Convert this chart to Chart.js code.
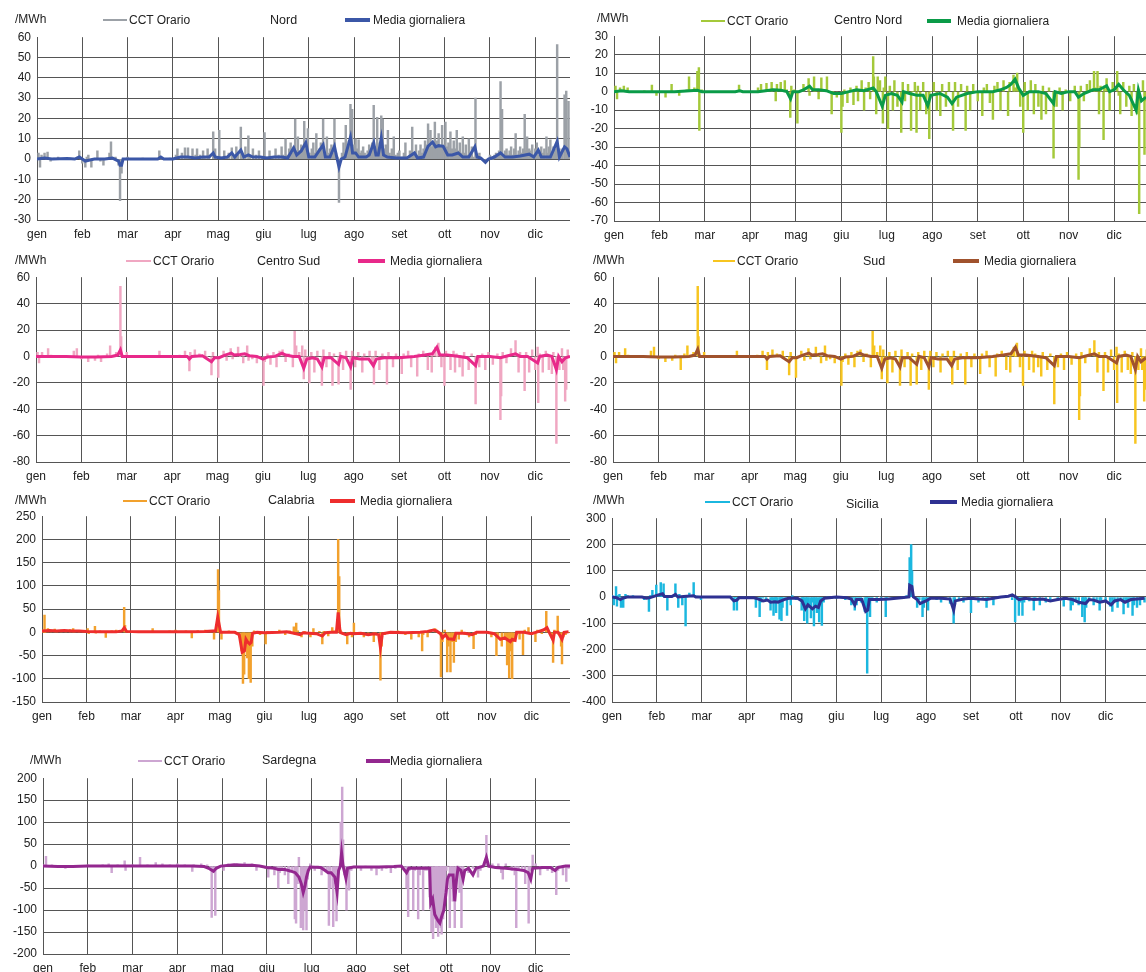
<!DOCTYPE html>
<html>
<head>
<meta charset="utf-8">
<script src="https://cdn.jsdelivr.net/npm/chart.js@4.4.1/dist/chart.umd.min.js"></script>
<style>
  body { margin:0; background:#fff; width:1146px; height:972px; overflow:hidden; position:relative;
         font-family:"Liberation Sans", Arial, sans-serif; color:#222; }
  .box { position:absolute; }
  .t { position:absolute; font-size:12px; line-height:14px; white-space:nowrap; }
  .ln { position:absolute; }
</style>
</head>
<body>
<script>
// month labels (x axis, 30 "days" per month)
const mesi = ["gen","feb","mar","apr","mag","giu","lug","ago","set","ott","nov","dic"];

// ---- Nord ----
const nordOrario = [[0,0],[1,3],[2,-4],[3,2],[5,3],[6,0],[7,3.5],[9,-1],[11,0.5],[14,1],[18,0],[22,0.5],[25,0],[27,1],[28,4],[29,0],[30,-2],[32,-4],[33,1],[34,2],[36,-4],[38,0],[40,4],[41,0],[42,-1],[44,-3],[46,0],[48,3],[49,8.5],[50,0],[52,1],[54,-3],[55,-20.5],[55.5,-2],[56,-7],[57,0],[60,1],[65,0],[70,0.5],[75,0],[80,0],[81,4],[82,0],[88,0.5],[92,2],[93,5],[94,1],[96,3],[98,5.5],[99,1],[100,5.5],[101,1],[103,5],[105,2],[106,5],[108,2],[110,4],[111,1],[113,5],[114,2],[116.7,13.4],[117.5,2],[118,5],[120.7,14.2],[121.5,1],[124,4],[126,1],[127,3],[129,5.5],[130,1],[132,6],[133,2],[135,15.8],[136,2],[138,6],[140,11.4],[141,2],[143,5],[145,2],[147,4],[149,1],[150.7,13],[151.5,1],[154,4],[156,1],[158,5],[160,2],[162,6],[163,2],[164.6,10],[165.5,2],[167,5],[168,8],[169,3],[170,6],[171,19.7],[172,4],[172.8,11],[174,4],[175,7],[176,5],[177,18.6],[178,5],[179.4,15],[180.5,3],[182,5],[183,8],[184,3],[185,12.6],[186,4],[187,5],[188,8],[189.5,19.7],[190.5,3],[192,11],[193,3],[194,5],[195,7],[196,3],[197,19.7],[198,3],[199,1],[200,-21.3],[201,0],[202,3],[203,8],[204.5,16.6],[205.5,4],[206.5,9],[207.6,26.9],[208.2,6],[208.7,24.5],[209.5,5],[210,7],[211,10],[212,5],[213,9.5],[214,3],[215,4],[216,6],[217,3],[218,2],[219,4],[220,7],[221,3],[222,8],[223,26.5],[224,6],[225.3,20.5],[226.5,5],[227,8],[228,21.3],[228.5,6],[229,19.7],[230,5],[231,7],[232.4,14.2],[233.5,3],[235,5],[236.3,11],[237.5,2],[239,3],[240,4],[242,1],[243,3],[244,8],[245,1],[247,4],[248.5,15.8],[249.5,2],[251,7],[252,2],[253,4],[254,7],[255,3],[256,5],[257,9],[258,5],[258.5,7],[259,17.4],[259.8,6],[260.6,14.2],[261.5,6],[262.5,8],[263.5,18.2],[264.5,7],[265,9],[266,12.6],[267,6],[268.3,16.6],[269.3,7],[270.5,18.2],[271.5,6],[272.5,8],[273.8,13.4],[275,5],[276,9],[277,5],[278,14.2],[279,4],[280,8],[281,3],[282,11],[283,3],[284,7],[285,2],[286,10],[287,2],[288,6],[289,1],[290.4,30],[291,1],[292,2],[293,3],[295,0],[297,-1.6],[298,0],[300,2],[302,0],[303,2],[304,3],[305,1],[306,4],[307,38.2],[307.5,2],[308,24.5],[309,2],[310,4],[311,5],[312,2],[313,4],[314,6],[315,2],[316,5],[317,12.6],[318,2],[319,4],[320,6],[321,3],[322,5],[323,22],[323.8,4],[324.6,11],[325.5,3],[326,5],[327,4],[328,7],[329,2],[330,5],[331,8],[332,2],[333,4],[334,6],[335,3],[336,5],[337.4,11],[338.3,3],[339,6],[340,9.5],[341,3],[342,6],[343,5],[344.5,56.4],[345,2],[346,5],[347,2],[348,5],[349.4,31.6],[350,4],[350.5,33.5],[351.2,5],[352,28.4],[352.5,2],[353,1]];
const nordMedia = [[0,0],[5,0.5],[10,0],[20,0.3],[25,0],[28,1],[30,0],[32,-1],[35,-0.5],[38,0],[45,0],[50,0.5],[54,-1],[55,-3],[56,-3],[57,0],[60,0],[80,0],[82,1],[84,0],[90,0],[95,1],[100,1],[105,0.5],[110,1],[114,1],[116.7,3],[118,1],[122,0.5],[126,1],[129,3],[131,1],[135,4.4],[137,1],[140,2],[143,1],[148,1],[152,0.5],[157,1],[162,1],[166,0.5],[170,5.5],[172,2],[175,4],[178,8],[180,1],[184,1],[189.5,7],[191,1],[194,1],[197,6.3],[198.5,1],[200,-4],[201.5,0],[204,1],[207.6,10.7],[209,3],[211,3],[213,1],[218,1],[220,2],[223,8],[224.5,2],[226,2],[228,10.3],[229.5,2],[232,1],[238,0.5],[245,0.5],[250,3],[252,0.5],[256,1],[259,6.3],[262,8.4],[264,6],[266,6.6],[269,6.3],[272,2],[275,2],[279,3],[282,1],[286,1],[290,6],[291.5,1],[294,0.5],[297,-1.6],[299,0],[303,1],[307,3],[310,1],[315,1],[320,1.5],[326,2.4],[329,1],[332,4.4],[334,1],[340,1],[344.5,8.7],[346,1],[349.4,6],[351,5],[353,1]];

// ---- Centro Nord ----
const centroNordOrario = [[0,0],[1,3],[2,-4],[3,0],[4,2],[6.5,3],[8,0],[9,2],[12,0],[20,0.5],[25,3.5],[26,0],[28,-2],[30,0],[34,-3],[36,0],[38,4],[39,0],[43,-2],[45,0],[48,1],[49.5,8],[50.5,0],[53,2],[55,11],[56,13],[56.3,-21],[56.8,0],[58,1],[60,0],[70,0],[80,0],[82.5,3.5],[84,0],[90,0],[95,2],[97,4],[98,0],[100.6,4.5],[102,1],[104,5],[106.7,-5],[107.5,4],[110,5],[112.7,6],[114,1],[116.3,-14],[117,3],[119,1],[121,-17],[122,0],[125,4],[128.4,7],[129,-2],[132,8],[133,1],[135,-4],[136.8,7.5],[138,1],[140.5,8],[141.5,0],[143.6,-12],[144.5,0],[147,-3],[150,-22],[150.8,-8],[152,1],[154,-6],[156,2],[158,-7],[160,3],[161,-5],[163.4,6],[164,0],[165,-10],[166,2],[168,5],[169,-4],[171,19],[171.5,8],[173,-12],[174,8],[175.5,6],[177.4,-17],[178,2],[179,8],[180.8,-20],[182,3],[184,-10],[185,6],[187,-8],[189.5,-22],[190.5,5],[192,-5],[194,4],[196,-21],[197,0],[198.5,5],[199.6,-22],[200.5,3],[202,-10],[204,5],[206,-12],[208,-25.5],[209,0],[211,5],[213,-10],[215.3,-13],[216.5,4],[219,-8],[221,5],[223.7,-21],[225,5],[227,-8],[229,4],[232,-21],[233,3],[235,-10],[237,4],[240,-5],[243,-13],[244,2],[246,4],[248,-6],[250,-15],[251,3],[253,5],[255,-10],[257,6],[260,-13],[261,5],[263.6,9],[264.5,2],[266,10],[267,1],[268,-8],[270,-22],[271,5],[273,-10],[275,6],[277,-12],[278,4],[280,-8],[282,-15],[283,3],[285,-12],[287,2],[290,-36],[290.6,0],[292,-8],[294,2],[296,-10],[298,1],[301,-5],[304,3],[306.5,-47.5],[307,-30],[308,3],[310,-5],[312,4],[314,6],[316.7,11],[317.5,2],[319,11],[320,-12],[321,3],[323,-26],[323.5,3],[325,7],[327,-10],[329,5],[332,11],[333,-2],[334,-12],[336,5],[338,-8],[340,3],[341.5,-13],[343,4],[345,-12],[346.5,-66],[347,0],[349,6],[350,-34],[351,-5]];
const centroNordMedia = [[0,0],[5,0.5],[10,0],[30,0],[40,0],[55,0.7],[58,0],[80,0],[83,0.5],[85,0],[95,0],[100,0.5],[105,1],[110,0.8],[114,0],[116.5,-3.9],[118,0],[122,0],[125,1],[129,3],[131,1],[135,1],[140,0.5],[145,-1],[150,-1],[155,0],[160,1],[165,0.5],[171,2],[173,0],[177,-8],[179,-2],[183,-1],[187,-2],[190,-5.6],[191,0],[195,-1],[200,-2],[204,-2],[207,-7.7],[209,-2],[215,-1],[220,-3],[223,-6.5],[226,-3],[233,-1],[240,0],[250,0],[255,1],[259,2.3],[262,4],[264.6,6.7],[267,2],[270,-2],[274,0],[280,0],[285,-1],[290,-6.5],[291,0],[295,-1],[300,0],[304,0],[306.4,-3],[310,-1],[316,1],[320,1],[325,3.2],[327,0],[330,1],[333,4],[336,1],[340,-2],[344.5,-10],[346,1],[348,-5],[351,-3]];

// ---- Centro Sud ----
const centroSudOrario = [[0,0],[1,3],[2,-5],[3,0],[4,3],[6,0],[8,6],[10,1],[14,0],[20,0],[25,4],[26,0],[27,6],[28,0],[30,-2],[32,0],[34.5,-4],[36,0],[39,-3],[41,1],[43,-4],[45,0],[47,2],[49,8],[50,0],[53,3],[55.8,53],[56.3,15],[57,0],[60,3],[62,0],[70,0],[80,0],[81.6,4],[83,0],[90,0],[95,1],[98.5,4],[100,0],[101.4,-11],[102,3],[105,5],[108,2],[111.8,4],[113,0],[116,-14],[117,3],[119,0],[120.5,-16],[121.5,0],[124,4],[126,-3],[128.7,6],[130,-2],[133.6,7],[135,0],[137,-5],[139.6,8],[140.5,-3],[143,-2],[146,-5],[148,0],[150.4,-22],[151.2,-4],[153,2],[155,-6],[157,3],[159,-8],[161,4],[163,5],[165,-4],[167,2],[169.8,-8],[171,19],[172,8],[174,3],[176,8],[177,-17],[178,5],[179,-3],[180.7,-20],[182,3],[184,-12],[186,4],[189,-22],[190,5],[192,-8],[194,3],[196,-22],[197,2],[200,-21],[201,3],[203,-10],[205,4],[208,-25],[209,4],[211,-8],[213,3],[215.7,-12],[217,2],[220.5,4],[222,-5],[223.4,-21],[224.5,4],[227,-10],[229,2],[232,-21],[233,3],[236,-8],[238,2],[241.8,-13],[243,2],[246,4],[248,-8],[252,-15],[253,2],[256,4],[259,-10],[261.6,-12],[262.5,3],[264,7],[265,0],[266,10],[267,1],[268,-8],[270,-22],[271,4],[274,-10],[276,4],[277,-12],[278,2],[280,-8],[282,-15],[283,3],[286,-10],[288,2],[290.6,-36],[291.2,0],[293,-8],[295,2],[297,-10],[299,3],[302,-6],[305,2],[307,-48],[307.5,-30],[308.5,3],[311,-5],[314,6],[317,12],[318,2],[319,-12],[320,3],[323,-26],[324,3],[326,-12],[328,5],[330,-10],[331.6,7],[332,-35],[333,2],[335,-12],[337,4],[339,-10],[341,-13],[342,3],[344,-66],[344.6,0],[346,-10],[347.7,6],[348.5,-10],[349.8,-34],[350.5,-25],[351.5,5],[353,0]];
const centroSudMedia = [[0,0],[10,0],[20,0],[30,-0.5],[40,-0.5],[50,0],[54,1],[55.8,5],[57,0],[65,0],[100,0],[101.4,-2],[103,0],[110,0.5],[116,-4],[118,-1],[121,-1],[125,1],[129,2.5],[131,1],[135,1.5],[138,2],[141,0.5],[146,0],[150,-2],[153,-0.5],[158,0],[162.6,2.5],[165,1],[170,0],[174,0],[177,-9],[179,-2],[183,-1],[186,-2],[189,-8],[190.5,-1],[195,-1],[200,-6],[201.5,0],[205,-1],[208,-8],[209.5,-1],[214,-2],[220,-2],[223,-7],[225,-2],[230,-1],[235,-1],[240,-1],[250,0],[257,1],[262,2],[265,7],[267,1],[272,1],[280,0],[285,-1],[290.6,-7],[292,0],[300,0],[307,-1],[312,0.5],[317,2],[320,0],[325,0],[331.6,-5],[333,0],[338,1],[341,0],[344,-10],[345.5,0],[347.7,-4],[350,-1],[353,0]];

// ---- Sud ----
const sudOrario = [[0,0],[1,3],[2,-5],[3,0],[4,3],[6,0],[8,6],[10,1],[14,0],[20,0],[25,4],[26,0],[27,7],[28,0],[30,-2],[32,0],[34.5,-4],[36,0],[39,-3],[41,1],[44.6,-10],[45.5,0],[47,2],[49,8],[50,0],[53,3],[55.8,53],[56.3,15],[57,0],[60,3],[62,0],[70,0],[80,0],[81.6,4],[83,0],[90,0],[95,1],[98.5,4],[100,0],[101.4,-10],[102,3],[105,5],[108,2],[111.8,4],[113,0],[116,-14],[117,3],[119,0],[120.5,-16],[121.5,0],[124,4],[126,-3],[128.7,6],[130,-2],[133.6,7],[135,0],[137,-5],[139.6,8],[140.5,-3],[143,-2],[146,-5],[148,0],[150.4,-22],[151.2,-4],[153,2],[155,-6],[157,3],[159,-8],[161,4],[163,5],[165,-4],[167,2],[169.8,-8],[171,19],[172,8],[174,3],[176,8],[177,-17],[178,5],[179,-3],[180.7,-20],[182,3],[184,-12],[186,4],[189,-22],[190,5],[192,-8],[194,3],[196,-22],[197,2],[200,-21],[201,3],[203,-10],[205,4],[208,-25],[209,4],[211,-8],[213,3],[215.7,-12],[217,2],[220.5,4],[222,-5],[223.4,-21],[224.5,4],[227,-10],[229,2],[232,-21],[233,3],[236,-8],[238,2],[241.8,-13],[243,2],[246,4],[248,-8],[252,-15],[253,2],[256,4],[259,-10],[261.6,-12],[262.5,3],[264,7],[265,0],[266,10],[267,1],[268,-8],[270,-22],[271,4],[274,-10],[276,4],[277,-12],[278,2],[280,-8],[282,-15],[283,3],[286,-10],[288,2],[290.6,-36],[291.2,0],[293,-8],[295,2],[297,-10],[299,3],[302,-6],[305,2],[307,-48],[307.5,-30],[308.5,3],[311,-5],[314,6],[317,12],[318,2],[319,-12],[320,3],[323,-26],[324,3],[326,-12],[328,5],[330,-10],[331.6,7],[332,-35],[333,2],[335,-12],[337,4],[339,-10],[341,-13],[342,3],[344,-66],[344.6,0],[346,-10],[347.7,6],[348.5,-10],[349.8,-34],[350.5,-25],[351.5,5]];
const sudMedia = [[0,0],[10,0],[20,0],[30,-0.5],[40,-0.5],[50,0],[54,1],[55.8,5.5],[57,0],[65,0],[100,0],[101.4,-2],[103,0],[110,0.5],[116,-4],[118,-1],[121,-1],[125,1],[129,2.5],[131,1],[135,1.5],[138,2],[141,0.5],[146,0],[150,-2],[153,-0.5],[158,0],[162.6,2.5],[165,1],[170,0],[174,0],[177,-9],[179,-2],[183,-1],[186,-2],[189,-8],[190.5,-1],[195,-1],[200,-6],[201.5,0],[205,-1],[208,-8],[209.5,-1],[214,-2],[220,-2],[223,-7],[225,-2],[230,-1],[235,-1],[240,-1],[250,0],[257,1],[262,2],[265,7],[267,1],[272,1],[280,0],[285,-1],[290.6,-7],[292,0],[300,0],[307,-1],[312,0.5],[317,2],[320,0],[325,0],[331.6,-5],[333,0],[338,1],[341,0],[344,-10],[345.5,0],[347.7,-4],[351,-1]];

// ---- Calabria ----
const calabriaOrario = [[0,5],[1.2,0],[1.7,37],[2.2,0],[4,8],[6,3],[8.6,7],[10,2],[13,5],[16,3],[19,6],[21,8],[22,2],[25,4],[28,2],[30.8,8],[31.5,-3],[33,2],[35.7,13],[36.3,-2],[39,3],[43,-11],[43.5,0],[47,3],[50,5],[53,3],[55.4,54],[56,15],[57,3],[59,0],[65,0],[74.6,8],[75.2,0],[80,2],[86,3],[90,5],[94,2],[97,3],[101,-12],[101.6,2],[105,4],[110,5],[114,3],[116,-15],[117,3],[118.7,135],[119.3,90],[120,5],[121,-15],[122,2],[126,3],[130,2],[133,-10],[134.6,-40],[135.5,-110],[136.3,-90],[137,-20],[138.4,-55],[139.5,-100],[140.7,-108],[141.8,-30],[143,3],[147,-5],[150.8,-25],[152,2],[156,0],[160,5],[164,-5],[167,3],[169.8,12],[170.5,-5],[171.4,20],[172.5,3],[175,-10],[177,2],[181,-10],[183,8],[185,-5],[187,2],[189,-25],[190,2],[193,-8],[195.7,10],[197,3],[199.7,200],[200.4,120],[201.3,5],[203,-5],[205.8,-25],[207,-5],[209,-10],[210.3,20],[211.5,0],[214,-5],[217,-10],[220,-3],[223.7,-20],[225,-2],[228.2,-103],[229,-30],[231,-5],[235,0],[240,3],[245,-5],[249,-15],[251,0],[254,-10],[256.3,-40],[257,-5],[260,-10],[262,5],[265,8],[267,2],[269,-96],[270,-20],[271.5,5],[273.2,-85],[274,-30],[275.4,-85],[276.5,-20],[277.7,-65],[279,-20],[281,-15],[283,5],[285,-5],[288,-10],[291,-35],[292.5,-5],[295,0],[300,0],[303,-10],[305,-5],[306.4,-50],[307.5,-10],[310,-30],[312,-10],[313.6,-70],[315,-98],[316,-40],[317,-100],[318,-20],[320,-5],[322,-15],[324.3,-48],[325.5,5],[328,10],[330,-5],[332.7,-20],[334,5],[337,-3],[340,45],[341,5],[343,-5],[344.6,-65],[345.5,5],[347.7,35],[348.5,-5],[350,-30],[350.6,-68],[351.5,-10],[353,-5],[355,0]];
const calabriaMedia = [[0,3],[5,4],[10,3],[15,4],[20,3],[25,3],[30,2],[40,1],[50,1],[54,3],[55.5,10],[57,2],[65,1],[80,1],[100,1],[110,2],[115,3],[117,3],[118.5,33],[120.4,0],[125,0],[130,0],[133,-5],[135,-43],[136.5,-40],[137.5,-15],[138.4,-20],[140,-25],[141,-22],[142,-2],[145,0],[150,-1],[160,0],[165,1],[170,-2],[174,-5],[176,-1],[180,-2],[185,-3],[189,-8],[191,-1],[195,0],[198.5,0],[199.7,43],[201,0],[205,-5],[208,-2],[210,-3],[215,-2],[220,-5],[224,-3],[227,-5],[228.2,-33],[229.5,-3],[235,0],[245,-1],[255,0],[260,2],[264,5],[266,3],[268.7,-3],[270,-12],[272,-5],[274,-14],[277.7,-15],[279,-2],[285,-2],[290,-5],[293,0],[300,0],[305,-3],[309,-15],[312,-12],[315.8,-20],[317,-15],[319,-17],[320,0],[325,0],[330,-3],[334,1],[338,5],[340.5,10],[342,0],[344.6,-17],[345.5,0],[348,0],[350.6,-15],[352,0],[355,1]];

// ---- Sicilia ----
const siciliaOrario = [[0,5],[1.2,-30],[2,0],[2.7,40],[3.3,-35],[4,5],[5,10],[6,-40],[7,0],[7.5,-40],[9,10],[10.5,5],[14,5],[18,0],[21.5,-10],[23,0],[24.7,-55],[25.5,5],[27,25],[28,0],[29.6,45],[31,10],[32.6,55],[33.5,15],[34.5,50],[35.5,0],[37,-50],[38,5],[40,0],[42.4,50],[43,5],[44.3,-40],[45,10],[47,-30],[48,0],[49.2,-110],[50,0],[51.7,15],[53,5],[54.6,55],[55.5,5],[57,3],[59.5,-10],[61,0],[70,0],[80,0],[81.5,-50],[82.3,-5],[83.5,-50],[84.5,-5],[88,0],[93,-5],[96.2,-40],[97,-5],[98.7,-75],[99.5,-20],[101,-5],[103,-10],[106,-50],[107,-10],[108,-70],[109,-20],[109.7,-60],[110.5,-15],[112,-85],[112.7,-30],[113.3,-90],[114,-40],[115.5,-10],[117,-70],[118,-10],[119.5,-30],[120.5,5],[123,-10],[126.8,-50],[127.5,-10],[128.5,-90],[129.5,-30],[130.5,-100],[131.5,-40],[133,-80],[134,-20],[135,-110],[136,-40],[137,-60],[138.5,-95],[139.5,-30],[140.3,-108],[141.5,-20],[144,0],[147,-5],[150,-5],[153,0],[156,-10],[160,-30],[161,-5],[162.3,-50],[163.5,-30],[165,-10],[166.5,-20],[169,-55],[170,-10],[170.6,-290],[171.3,-50],[172.5,-75],[174,-10],[177,-20],[180,-5],[183,-75],[184,-10],[187,-10],[190,-5],[194,0],[197,5],[199,150],[199.6,5],[200,200],[200.6,100],[201.5,0],[204,-40],[205.5,-10],[207.6,-75],[208.5,-40],[210,-15],[211.3,-50],[212.5,-10],[217,-10],[220,-20],[223,-10],[226,-25],[228.4,-100],[229.2,-30],[232,-10],[235,-20],[238,-5],[240,-60],[241,-10],[245,-20],[248,-5],[250.4,-40],[251.5,-10],[255,-30],[257,-5],[261,0],[265,5],[267.5,-10],[269.5,-95],[270.5,-10],[272,-70],[273,-20],[274.4,-70],[275.5,-20],[279,-15],[282,-50],[283,-10],[286,-30],[290,-20],[293,-10],[298,-10],[302,-35],[304,-10],[306.7,-50],[308,-30],[310,-10],[312,-30],[314.4,-75],[315,-20],[316,-95],[317,-40],[319,-10],[322,-30],[324,-10],[326,-50],[327,-20],[330,-10],[333,-35],[334.5,-55],[336,-20],[338,-40],[340,-10],[342,-65],[343.5,-20],[345,-40],[346.5,-10],[348,-70],[349,-30],[351,-40],[353,-30],[356,-20]];
const siciliaMedia = [[0,0],[3,-3],[5.6,-10],[7,-5],[10,0],[20,0],[23,-5],[25,-3],[28,2],[31,8],[33.8,12],[35,2],[40,2],[42.4,10],[44,0],[50,3],[54.6,5],[56,0],[65,0],[79,0],[81.5,-15],[83.5,-12],[85,-3],[95,-3],[98,-8],[101,-15],[104,-12],[106,-20],[109,-18],[111,-20],[113,-15],[115,-10],[118,-5],[124,-5],[127,-15],[129.3,-45],[131,-30],[134,-45],[136,-35],[138,-40],[139.5,-15],[142,-5],[150,0],[157,-3],[160,-8],[162.3,-30],[163.5,-10],[167,-10],[169.6,-55],[171,-50],[172,-10],[178,-10],[185,-8],[190,-5],[195,-2],[198.5,0],[199,45],[200.5,40],[201.5,0],[204,-10],[206,-25],[208,-20],[210,-15],[213,-5],[220,-5],[226,-8],[228.4,-50],[229.5,-15],[235,-8],[240,-5],[245,-8],[250.4,-10],[255,-5],[260,0],[265,3],[267.6,8],[270,0],[272,-10],[276,-5],[282,-10],[288,-8],[293,-15],[298,-10],[303,-5],[308,-10],[312,-20],[316.6,-25],[319,-10],[322,-12],[326,-20],[330,-15],[333.7,-30],[336,-15],[340,-10],[343,-20],[347,-10],[351,-8],[356,-5]];

// ---- Sardegna ----
const sardegnaOrario = [[0,3],[1.5,0],[2,22],[2.5,0],[6,3],[10,0],[15,-5],[20,2],[25,0],[30,3],[35,0],[40,3],[44,5],[46,-15],[47,0],[50,3],[54.7,12],[55.3,-10],[56,0],[60,3],[65,20],[65.5,0],[70,3],[75.5,8],[76.5,0],[80,5],[85,3],[90,5],[95,3],[100,-12],[101,3],[106,5],[110,3],[112,-5],[113,-117],[114,-10],[115.4,-112],[116.3,-5],[121,-10],[124,5],[130,5],[135,8],[140,5],[143,-10],[146,0],[149,-5],[150.9,-25],[152,-5],[155,-20],[156.5,-5],[157.6,-50],[158.5,-15],[160,-5],[162,-20],[164.3,-40],[165,-15],[167,-10],[168.7,-120],[169.5,-130],[170.5,-40],[171.4,20],[172.7,-140],[173.5,-120],[174.3,-145],[175.5,-100],[176.5,-145],[177.3,-30],[179,5],[182,-10],[184,0],[186.6,-20],[188,-5],[190,-10],[191.5,-135],[192.5,-50],[194.4,-138],[195.5,-40],[196.6,-125],[197.5,-20],[199,5],[199.5,100],[200.4,180],[201,60],[202,-20],[203.3,-100],[204,-20],[205,-55],[206.5,-10],[209,0],[213,-10],[216,0],[220,-10],[223.4,-20],[225,-5],[227,-10],[230,-5],[233,-15],[236,-5],[240,0],[242,-5],[243.5,-50],[244,-5],[244.6,-115],[245.5,-10],[248,-100],[249,-10],[251.3,-120],[252.3,-20],[254.6,-100],[255.5,-10],[257,-10],[259,-70],[260.2,-150],[261.3,-165],[262.5,-120],[263.3,-140],[264,-130],[264.7,-160],[265.8,-130],[266.5,-140],[267,-155],[268,-120],[268.7,-100],[269.5,-60],[270.2,-10],[271,0],[272.5,-140],[273.5,-50],[274.5,-80],[275.8,-140],[276.8,-30],[278,0],[279,-60],[280.3,-140],[281.5,-10],[285,-15],[288,-5],[291.4,-25],[293,-10],[295.9,10],[297,70],[298,10],[301,5],[305,5],[307,-15],[308,-30],[310,5],[314,-10],[316,-20],[317,-140],[318.5,-10],[321,-5],[323,-40],[325.3,-130],[326.5,-10],[328,25],[330,5],[333,-20],[336,-5],[338,-10],[341,-15],[343.8,-65],[345,-10],[348.3,-20],[350.5,-35],[352,-5],[353,0]];
const sardegnaMedia = [[0,0],[10,-1],[20,-1],[30,0],[50,0],[70,0],[90,0],[100,0],[108,-1],[111,-5],[114.2,-12],[116,-5],[119,0],[128,3],[135,2],[140,2],[145,0],[150,-3],[155,-5],[157.6,-8],[162,-8],[166.5,-12],[169,-15],[171.4,-25],[173,-40],[174.3,-60],[175.5,-45],[176.5,-25],[177.7,-10],[179,-2],[186,-3],[189,-10],[191,-15],[193,-15],[195.5,-25],[197,-60],[198,-10],[199.2,0],[200,30],[201,0],[202.9,-28],[204,-5],[208,-2],[215,-2],[225,-2],[235,-1],[240,0],[243.5,-15],[245,-5],[250,-5],[255,-5],[259,-5],[259.7,-85],[261,-75],[262.4,-110],[264.7,-125],[265.8,-130],[267,-115],[268.5,-100],[270,-60],[270.9,-30],[272,-20],[274.7,-20],[275.8,-80],[277,-30],[278,-5],[280,-10],[281.4,-30],[282.5,-10],[285,-5],[288,-20],[290,-5],[295,0],[297,20],[298.5,0],[303,-3],[310,-5],[318,-8],[322,-10],[325,-15],[326.7,-30],[328,-5],[335,-3],[340,-3],[343,-10],[345,-3],[350,0],[353,0]];

Chart.defaults.font.family = '"Liberation Sans", Arial, sans-serif';
Chart.defaults.font.size = 12;
Chart.defaults.color = "#222";

const gridCol = "#555555";

function toXY(arr) {
  return arr.map(p => ({ x: p[0], y: p[1] }));
}

function addText(txt, x, yc, size) {
  const d = document.createElement("div");
  d.className = "t";
  d.textContent = txt;
  d.style.left = x + "px";
  d.style.top = (yc - 7) + "px";
  if (size) d.style.fontSize = size + "px";
  document.body.appendChild(d);
}

function addLine(x1, x2, yc, w, col) {
  const d = document.createElement("div");
  d.className = "ln";
  d.style.left = x1 + "px";
  d.style.width = (x2 - x1) + "px";
  d.style.top = (yc - w / 2) + "px";
  d.style.height = w + "px";
  d.style.background = col;
  document.body.appendChild(d);
}

// one chart per zone
function panel(p) {
  const [pl, pt, pr, pb] = p.plot;
  const top = pt - 8;
  const w = pr - p.left;
  const h = pb - top + 24;
  const wrap = document.createElement("div");
  wrap.className = "box";
  wrap.style.left = p.left + "px";
  wrap.style.top = top + "px";
  wrap.style.width = w + "px";
  wrap.style.height = h + "px";
  const cv = document.createElement("canvas");
  wrap.appendChild(cv);
  document.body.appendChild(wrap);

  // header: unit, legend items and zone name
  const hd = p.head;
  addText("/MWh", hd.mwh[0], hd.mwh[1]);
  addLine(hd.l1[0], hd.l1[1], hd.y, 1.5, p.cOrario);
  addText("CCT Orario", hd.l1[1] + 2, hd.y);
  addText(p.name, hd.title[0], hd.title[1], 12.5);
  addLine(hd.l2[0], hd.l2[1], hd.y, 3.5, p.cMedia);
  addText("Media giornaliera", hd.l2[2], hd.y);

  new Chart(cv, {
    type: "line",
    data: {
      datasets: [
        { label: "Media giornaliera", data: toXY(p.media), borderColor: p.cMedia, borderWidth: 3, order: 0 },
        { type: "bar", label: "CCT Orario", data: toXY(p.orario), backgroundColor: p.cOrario,
          borderWidth: 0, barThickness: 1.8, order: 1 }
      ]
    },
    options: {
      responsive: true,
      maintainAspectRatio: false,
      animation: false,
      elements: { point: { radius: 0 }, line: { tension: 0 } },
      layout: { padding: { top: 8, left: 0, right: 0, bottom: 0 } },
      plugins: { legend: { display: false }, tooltip: { enabled: false }, title: { display: false } },
      scales: {
        x: {
          type: "linear",
          offset: false,
          min: 0,
          max: p.xMax,
          afterBuildTicks: s => { s.ticks = mesi.map((m, i) => ({ value: i * 30 })); },
          afterFit: s => { s.height = 24; },
          ticks: { callback: v => mesi[Math.round(v / 30)], padding: 7, maxRotation: 0, autoSkip: false, color: "#222" },
          grid: { color: gridCol, drawTicks: false, offset: false },
          border: { color: gridCol }
        },
        y: {
          min: p.yMin,
          max: p.yMax,
          afterFit: s => { s.width = pl - p.left; },
          ticks: { stepSize: p.yStep, padding: 6, color: "#222" },
          grid: {
            color: c => (c.tick && c.tick.value === p.yMax) ? "rgba(0,0,0,0)" : gridCol,
            drawTicks: false
          },
          border: { color: gridCol }
        }
      }
    }
  });
}

panel({ name: "Nord", left: 0, plot: [37, 32, 570, 220], xMax: 353, yMin: -30, yMax: 60, yStep: 10,
  orario: nordOrario, media: nordMedia, cOrario: "#9ca1a7", cMedia: "#3b57a7",
  head: { y: 20, mwh: [15, 19], l1: [103, 127], title: [270, 20], l2: [345, 370, 373] } });

panel({ name: "Centro Nord", left: 575, plot: [614, 31, 1146, 221], xMax: 351, yMin: -70, yMax: 30, yStep: 10,
  orario: centroNordOrario, media: centroNordMedia, cOrario: "#a4c93a", cMedia: "#0a9b48",
  head: { y: 21, mwh: [597, 18], l1: [701, 725], title: [834, 20], l2: [927, 951, 957] } });

panel({ name: "Centro Sud", left: 0, plot: [36, 272, 570, 462], xMax: 353, yMin: -80, yMax: 60, yStep: 20,
  orario: centroSudOrario, media: centroSudMedia, cOrario: "#f0a7c2", cMedia: "#e8298a",
  head: { y: 261, mwh: [15, 260], l1: [126, 151], title: [257, 261], l2: [358, 385, 390] } });

panel({ name: "Sud", left: 575, plot: [613, 272, 1146, 462], xMax: 351, yMin: -80, yMax: 60, yStep: 20,
  orario: sudOrario, media: sudMedia, cOrario: "#f7c520", cMedia: "#a0522d",
  head: { y: 261, mwh: [593, 260], l1: [713, 735], title: [863, 261], l2: [953, 979, 984] } });

panel({ name: "Calabria", left: 0, plot: [42, 511, 570, 702], xMax: 356, yMin: -150, yMax: 250, yStep: 50,
  orario: calabriaOrario, media: calabriaMedia, cOrario: "#f2a12d", cMedia: "#ee2d2d",
  head: { y: 501, mwh: [15, 500], l1: [123, 147], title: [268, 500], l2: [330, 355, 360] } });

panel({ name: "Sicilia", left: 575, plot: [612, 513, 1146, 702], xMax: 357, yMin: -400, yMax: 300, yStep: 100,
  orario: siciliaOrario, media: siciliaMedia, cOrario: "#1bb7df", cMedia: "#2e3192",
  head: { y: 502, mwh: [593, 500], l1: [705, 730], title: [846, 504], l2: [930, 957, 961] } });

panel({ name: "Sardegna", left: 0, plot: [43, 773, 570, 954], xMax: 353, yMin: -200, yMax: 200, yStep: 50,
  orario: sardegnaOrario, media: sardegnaMedia, cOrario: "#cda6d2", cMedia: "#93278f",
  head: { y: 761, mwh: [30, 760], l1: [138, 162], title: [262, 760], l2: [366, 390, 390] } });
</script>
</body>
</html>
